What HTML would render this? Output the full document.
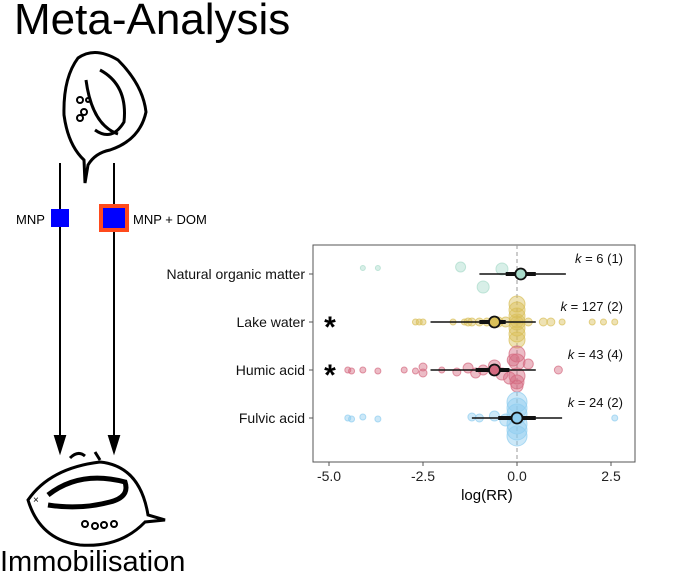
<!DOCTYPE html>
<html><head><meta charset="utf-8"><style>
body{margin:0;background:#fff;width:685px;height:578px;overflow:hidden;font-family:"Liberation Sans",sans-serif}
</style></head><body>
<svg width="685" height="578" viewBox="0 0 685 578" xmlns="http://www.w3.org/2000/svg">
<text x="14" y="34" font-size="44" font-family="Liberation Sans, sans-serif">Meta-Analysis</text>
<g fill="none" stroke="#000">
<path d="M78,58 Q95,46 118,60 Q143,85 146,112 Q140,140 110,150 Q95,153 88,165 L85,183 L84,160 Q68,145 64,115 Q63,78 78,58 Z" stroke-width="3"/>
<path d="M100,70 Q128,85 124,122 Q112,142 95,130" stroke-width="3"/>
<path d="M86,80 Q92,125 118,134" stroke-width="3"/>
<circle cx="80" cy="100" r="3" stroke-width="2"/><circle cx="84" cy="112" r="3" stroke-width="2"/><circle cx="80" cy="118" r="3" stroke-width="2"/><circle cx="88" cy="100" r="2" stroke-width="2"/>
</g>
<g stroke="#000" stroke-width="2">
<line x1="60" y1="163" x2="60" y2="440"/><line x1="114" y1="163" x2="114" y2="440"/>
<polygon points="55,436 65,436 60,452" fill="#000"/><polygon points="109,436 119,436 114,452" fill="#000"/>
</g>
<text x="16" y="224" font-size="13">MNP</text>
<rect x="51" y="209" width="18" height="18" fill="#0000ff"/>
<rect x="101" y="206" width="26" height="24" fill="#0000ff" stroke="#ff4a1c" stroke-width="4"/>
<text x="133" y="224" font-size="13">MNP + DOM</text>
<g fill="none" stroke="#000">
<path d="M28,500 Q50,468 100,462 Q140,466 148,515 L165,520 L145,522 Q120,548 80,545 Q40,540 28,500 Z" stroke-width="3"/>
<path d="M48,495 Q80,470 125,482 Q130,497 110,502 Q80,510 48,505" stroke-width="5"/>
<path d="M70,458 Q78,450 85,456 M95,452 L100,460" stroke-width="3"/>
<circle cx="85" cy="524" r="3" stroke-width="2"/><circle cx="95" cy="526" r="3" stroke-width="2"/><circle cx="104" cy="525" r="3" stroke-width="2"/><circle cx="114" cy="524" r="3" stroke-width="2"/>
<text x="33" y="503" font-size="10" fill="#000" stroke="none">×</text>
</g>
<text x="0" y="571" font-size="29">Immobilisation</text>
<g id="chart"></g>
</svg>
<script>
const categories=["Natural organic matter","Lake water","Humic acid","Fulvic acid"];
const colors=["#a9dccb","#d9bf58","#d46a80","#8ecdf0"];
const estimates=[0.1,-0.6,-0.6,0.0];
const thickLo=[-0.3,-1.0,-1.1,-0.5];
const thickHi=[0.5,-0.3,-0.2,0.5];
const thinLo=[-1.0,-2.3,-2.3,-1.2];
const thinHi=[1.3,0.5,0.5,1.2];
const kCounts=["6 (1)","127 (2)","43 (4)","24 (2)"];
const significant=[false,true,true,false];
const ptsX=[
 [-4.1,-3.7,-1.5,-0.4,-0.9],
 [-2.7,-2.6,-2.5,-1.7,-1.4,-1.3,-1.2,-1.0,-0.8,-0.5,-0.3,0,0,0,0,0,0,0,0,0.3,0.7,0.9,1.2,2.0,2.3,2.6],
 [-4.5,-4.4,-4.1,-3.7,-3.0,-2.7,-2.5,-2.5,-2.0,-1.6,-1.3,-1.1,-0.9,-0.6,-0.4,-0.2,-0.1,0,0,0,0,0,0.3,1.1],
 [-4.5,-4.4,-4.1,-3.7,-1.2,-1.0,-0.6,-0.3,0,0,0,0,0,0,2.6]];
const ptsDy=[
 [-6,-6,-7,-5,13],
 [0,0,0,0,0,0,0,0,0,0,0,-18,-12,-6,0,6,12,18,0,0,0,0,0,0,0,0],
 [0,1,0,1,0,1,-3,3,0,2,-2,3,0,-4,4,8,-10,-16,-8,6,12,16,-6,0],
 [0,1,-1,1,-1,0,-2,2,-16,-10,-4,6,12,18,0]];
const ptsR=[
 [2.5,2.5,5,6,6],
 [3,3,3,3,3,4,4,4,4,5,5,8,8,8,8,8,8,8,6,4,4,4,3,3,3,3],
 [3,3,3,3,3,3,4,4,3,4,5,5,5,6,6,6,6,8,8,8,7,6,5,4],
 [3,3,3,3,4,4,5,6,10,10,10,10,10,10,3]];
const xTicks=[-5,-2.5,0,2.5];
const xTickLabels=["-5.0","-2.5","0.0","2.5"];
const L=313,R=635,T=245,B=462;
const xs=v=>517+v*37.6;
const ys=i=>274+i*48;
const NS="http://www.w3.org/2000/svg";
const g=document.getElementById("chart");
function mk(t,a,p){const e=document.createElementNS(NS,t);for(const k in a)e.setAttribute(k,a[k]);(p||g).appendChild(e);return e;}
let fr=mk("rect",{x:L,y:T,width:R-L,height:B-T,fill:"#fff",stroke:"#555","stroke-width":1});


let zl=mk("line",{x1:xs(0),x2:xs(0),y1:T,y2:B,stroke:"#999","stroke-dasharray":"4,3"});


xTicks.forEach((v,i)=>{
 let t=mk("line",{x1:xs(v),x2:xs(v),y1:B,y2:B+4,stroke:"#555"});
 
 
 let l=mk("text",{x:xs(v),y:B+19,"font-size":14,"text-anchor":"middle",fill:"#222"});l.textContent=xTickLabels[i];
 
 
});
let xt=mk("text",{x:xs(-0.8),y:B+38,"font-size":15,"text-anchor":"middle",fill:"#000"});xt.textContent="log(RR)";


categories.forEach((c,i)=>{
 const y=ys(i);
 let tk=mk("line",{x1:L-4,x2:L,y1:y,y2:y,stroke:"#555"});
 
 
 let lb=mk("text",{x:L-8,y:y+5,"font-size":14,"text-anchor":"end",fill:"#111"});lb.textContent=c;
 
 
 ptsX[i].forEach((v,j)=>{
  let p=mk("circle",{cx:xs(v),cy:y+ptsDy[i][j],r:ptsR[i][j],fill:colors[i],"fill-opacity":0.45,stroke:colors[i],"stroke-opacity":0.7});
  
  
 });
 let tl=mk("line",{x1:xs(thinLo[i]),x2:xs(thinHi[i]),y1:y,y2:y,stroke:"#111","stroke-width":1.5});
 
 
 let th=mk("line",{x1:xs(thickLo[i]),x2:xs(thickHi[i]),y1:y,y2:y,stroke:"#111","stroke-width":4});
 
 
 let e=mk("circle",{cx:xs(estimates[i]),cy:y,r:5.5,fill:colors[i],stroke:"#111","stroke-width":1.8});
 
 
 let kt=mk("text",{x:623,y:y-11,"font-size":13,"text-anchor":"end",fill:"#111"});
 kt.innerHTML='<tspan font-style="italic">k</tspan> = '+kCounts[i];
 
 
 if(significant[i]){
  let s=mk("text",{x:330,y:y+15,"font-size":30,"font-weight":"bold","text-anchor":"middle",fill:"#000"});s.textContent="*";
  
  
 }
});
</script>
</body></html>
